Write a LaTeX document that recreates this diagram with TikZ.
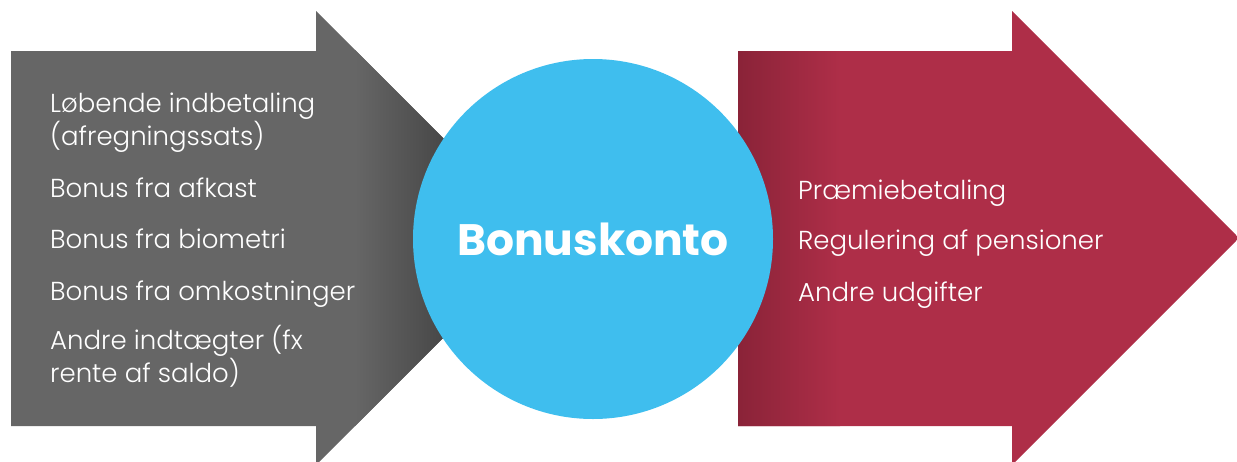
\documentclass[tikz,border=0pt]{standalone}
\usepackage{fontspec}
\setmainfont{Poppins}[UprightFont={* Light}, BoldFont={* Bold}]
\begin{document}
\begin{tikzpicture}[x=1pt,y=-1pt,
  item/.style={anchor=base west, align=left, text=white, inner sep=0pt,
    font=\fontsize{26}{30.5}\selectfont},
  hub/.style={circle, fill=blueC, minimum size=360pt, inner sep=0pt, text=white,
    font=\bfseries\fontsize{44}{44}\selectfont}]
\definecolor{greyA}{HTML}{666666}
\definecolor{greyB}{HTML}{474747}
\definecolor{redA}{HTML}{AE2E48}
\definecolor{redB}{HTML}{8A2338}
\definecolor{blueC}{HTML}{3FBEEE}
\useasboundingbox (0,0) rectangle (1237,461);
% left grey arrow
\begin{scope}
  \clip (11,51) -- (316,51) -- (316,11) -- (543,238) -- (316,465) -- (316,426) -- (11,426) -- cycle;
  \fill[greyA] (0,0) rectangle (560,470);
  \shade[left color=greyA, right color=greyB] (355,0) rectangle (446,470);
  \fill[greyB] (445,0) rectangle (560,470);
\end{scope}
% right red arrow
\begin{scope}
  \clip (738,51) -- (1012,51) -- (1012,11) -- (1239,238) -- (1012,465) -- (1012,426) -- (738,426) -- cycle;
  \fill[redA] (730,0) rectangle (1240,470);
  \shade[left color=redB, right color=redA] (738,0) rectangle (840,470);
\end{scope}
% hub
\node[hub] (konto) at (593,239) {Bonuskonto};
% left items (multi-line nodes are placed at the baseline of their last line)
\node[item] (in1) at (50,145) {Løbende indbetaling\\(afregningssats)};
\node[item] (in2) at (50,197) {Bonus fra afkast};
\node[item] (in3) at (50,248) {Bonus fra biometri};
\node[item] (in4) at (50,300) {Bonus fra omkostninger};
\node[item] (in5) at (50,382) {Andre indtægter (fx\\rente af saldo)};
% right items
\node[item] (out1) at (798,199) {Præmiebetaling};
\node[item] (out2) at (798,249) {Regulering af pensioner};
\node[item] (out3) at (798,301) {Andre udgifter};
\end{tikzpicture}
\end{document}
